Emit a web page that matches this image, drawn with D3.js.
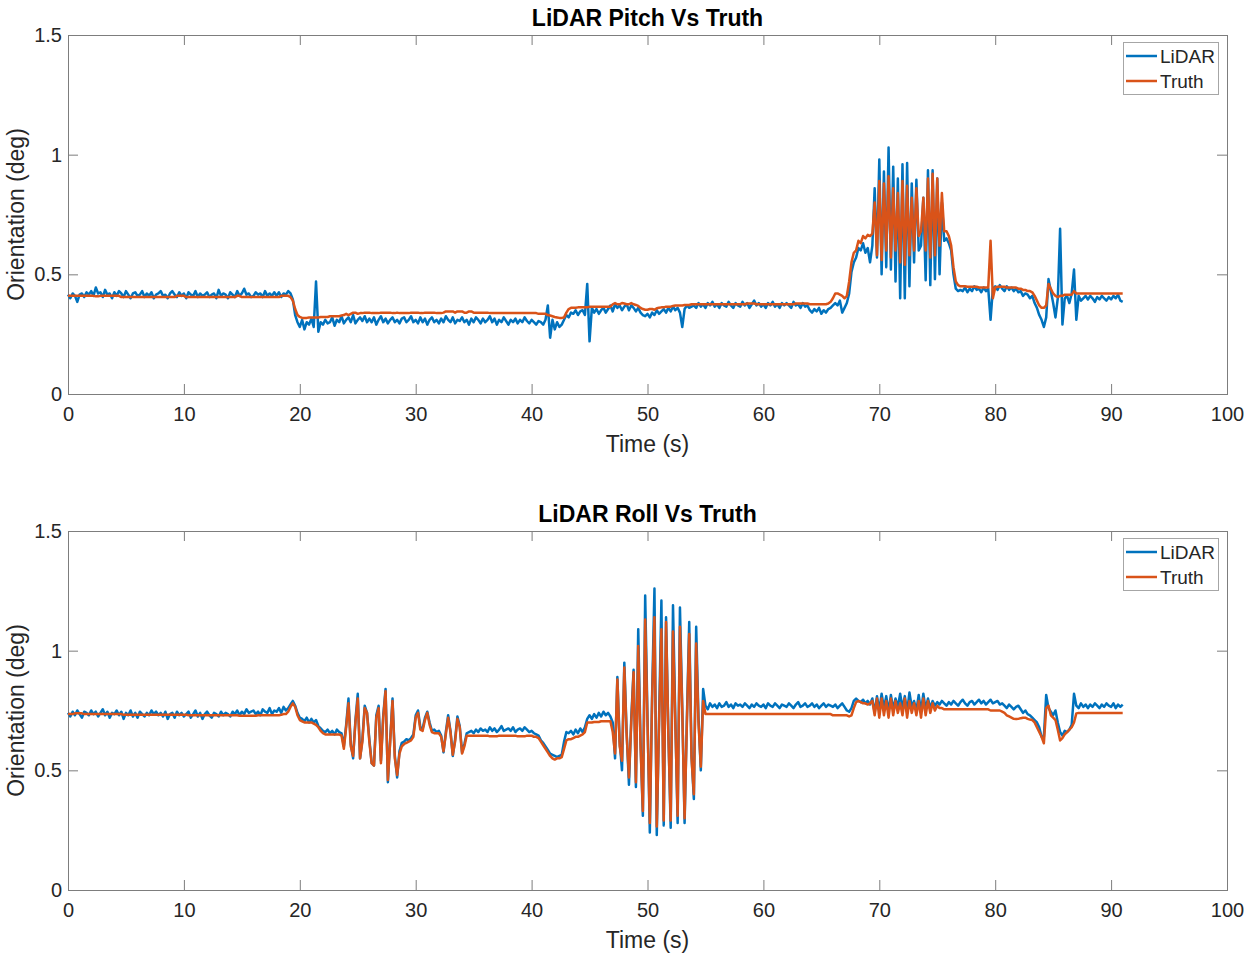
<!DOCTYPE html>
<html><head><meta charset="utf-8">
<script src="https://cdn.jsdelivr.net/npm/d3@7"></script>
<style>
body{margin:0;background:#fff}
svg{display:block}
text{font-family:"Liberation Sans",Arial,Helvetica,sans-serif}
</style>
</head><body>
<svg id="chart" width="1260" height="961"></svg>
<script>
// sampling grid (s), 0.2 s steps from 0 to 91
const time = d3.range(456).map(i => Math.round(i * 2) / 10);
const xTicks = [0, 10, 20, 30, 40, 50, 60, 70, 80, 90, 100];
const yTicks = [0, 0.5, 1, 1.5];
const yTickLabels = ["0", "0.5", "1", "1.5"];
const seriesNames = ["LiDAR", "Truth"];
const titles = ["LiDAR Pitch Vs Truth", "LiDAR Roll Vs Truth"];
const xLabel = "Time (s)";
const yLabel = "Orientation (deg)";

const pitchTruth = [
.41,.41,.41,.41,.41,.41,.41,.41,.41,.41,
.41,.41,.408,.408,.41,.41,.41,.41,.41,.41,
.41,.41,.41,.405,.405,.405,.405,.405,.405,.405,
.405,.405,.405,.405,.405,.405,.405,.405,.405,.405,
.405,.405,.405,.405,.405,.405,.405,.41,.41,.41,
.41,.405,.405,.405,.405,.405,.405,.405,.405,.405,
.405,.405,.405,.405,.405,.405,.405,.405,.405,.405,
.405,.405,.405,.41,.41,.405,.405,.405,.405,.405,
.405,.405,.405,.405,.405,.405,.405,.405,.405,.405,
.405,.405,.41,.41,.41,.41,.405,.39,.355,.33,
.322,.318,.318,.318,.32,.32,.32,.32,.32,.322,
.322,.322,.322,.325,.325,.325,.325,.325,.328,.33,
.335,.33,.335,.34,.34,.335,.338,.338,.34,.34,
.34,.338,.338,.338,.338,.34,.34,.34,.34,.34,
.338,.338,.34,.338,.338,.338,.338,.338,.34,.34,
.34,.34,.338,.338,.34,.34,.34,.34,.34,.338,
.338,.338,.34,.345,.345,.345,.345,.34,.345,.345,
.345,.34,.34,.345,.345,.34,.34,.34,.34,.34,
.34,.34,.338,.338,.338,.338,.338,.338,.338,.338,
.338,.338,.338,.338,.338,.338,.338,.338,.338,.338,
.338,.338,.338,.335,.335,.335,.335,.33,.328,.325,
.322,.32,.318,.318,.32,.34,.355,.36,.36,.36,
.362,.362,.362,.362,.362,.365,.365,.365,.365,.365,
.365,.365,.365,.365,.365,.375,.38,.375,.375,.38,
.378,.375,.375,.38,.375,.372,.368,.36,.355,.352,
.352,.355,.355,.352,.358,.36,.362,.362,.365,.365,
.365,.368,.37,.37,.37,.37,.372,.372,.372,.375,
.375,.375,.375,.375,.375,.375,.375,.375,.375,.375,
.375,.375,.375,.375,.375,.375,.375,.375,.375,.375,
.375,.375,.375,.378,.378,.378,.378,.375,.375,.375,
.375,.375,.375,.375,.375,.375,.375,.375,.375,.375,
.375,.375,.375,.375,.378,.378,.378,.378,.378,.378,
.375,.375,.375,.375,.375,.375,.375,.375,.378,.385,
.40,.42,.42,.415,.41,.40,.41,.47,.55,.59,
.60,.64,.63,.66,.65,.665,.66,.67,.80,.58,
.89,.56,.88,.60,.91,.57,.86,.60,.84,.55,
.89,.54,.87,.58,.82,.60,.86,.66,.68,.82,
.60,.90,.57,.92,.58,.90,.62,.84,.68,.68,
.66,.62,.53,.47,.455,.45,.45,.45,.448,.448,
.448,.448,.448,.445,.445,.445,.445,.445,.64,.40,
.445,.448,.448,.448,.448,.445,.445,.445,.445,.445,
.44,.44,.435,.435,.43,.43,.425,.41,.39,.37,
.36,.36,.37,.46,.44,.42,.41,.405,.41,.41,
.415,.415,.415,.415,.43,.42,.42,.42,.42,.42,
.42,.42,.42,.42,.42,.42,.42,.42,.42,.42,
.42,.42,.42,.42,.42,.42
];

const pitchLidar = [
.415,.40,.42,.41,.385,.415,.42,.405,.425,.415,
.43,.41,.445,.42,.425,.405,.435,.415,.42,.40,
.425,.41,.43,.42,.405,.43,.415,.40,.42,.425,
.41,.415,.43,.405,.42,.41,.425,.40,.415,.42,
.43,.41,.415,.40,.42,.43,.415,.405,.425,.41,
.42,.40,.425,.415,.41,.43,.405,.42,.41,.415,
.425,.405,.415,.42,.40,.435,.41,.42,.415,.40,
.425,.415,.405,.43,.41,.42,.44,.415,.42,.405,
.41,.425,.415,.42,.405,.43,.41,.42,.41,.425,
.41,.425,.405,.42,.415,.43,.42,.395,.33,.30,
.28,.31,.27,.30,.29,.315,.28,.47,.26,.30,
.29,.31,.295,.30,.32,.285,.31,.30,.325,.295,
.31,.32,.30,.33,.295,.31,.32,.305,.325,.30,
.315,.30,.32,.29,.31,.325,.30,.315,.295,.31,
.32,.30,.31,.295,.315,.32,.30,.31,.325,.30,
.31,.295,.32,.30,.315,.29,.31,.32,.30,.31,
.295,.315,.30,.325,.31,.30,.32,.295,.31,.305,
.32,.30,.31,.29,.315,.30,.32,.31,.295,.315,
.30,.31,.325,.30,.315,.29,.31,.30,.32,.305,
.29,.31,.30,.315,.295,.31,.30,.32,.305,.295,
.31,.30,.29,.305,.30,.29,.31,.37,.235,.31,
.27,.30,.28,.29,.31,.33,.32,.34,.335,.35,
.33,.345,.35,.33,.46,.22,.36,.34,.355,.335,
.35,.36,.34,.355,.37,.345,.375,.36,.37,.35,
.365,.375,.35,.37,.36,.345,.36,.34,.33,.325,
.335,.32,.34,.33,.35,.335,.345,.355,.34,.36,
.345,.365,.35,.36,.34,.28,.355,.37,.36,.365,
.37,.36,.38,.365,.375,.36,.38,.37,.385,.365,
.375,.36,.38,.37,.365,.385,.37,.36,.38,.37,
.365,.385,.37,.38,.36,.375,.39,.37,.38,.365,
.375,.36,.38,.37,.385,.365,.375,.36,.38,.37,
.38,.37,.36,.385,.37,.375,.36,.38,.365,.37,
.35,.34,.355,.345,.36,.335,.35,.34,.355,.36,
.37,.38,.37,.39,.34,.36,.38,.42,.51,.55,
.57,.61,.60,.63,.59,.61,.55,.62,.86,.57,
.98,.50,.93,.53,1.03,.52,.95,.47,.90,.40,
.96,.40,.965,.45,.88,.55,.895,.60,.62,.82,
.475,.935,.455,.935,.48,.90,.50,.80,.64,.65,
.63,.60,.50,.44,.43,.435,.43,.445,.425,.44,
.43,.45,.435,.44,.425,.445,.43,.44,.31,.44,
.45,.435,.455,.44,.43,.45,.435,.445,.43,.44,
.425,.43,.41,.42,.415,.40,.41,.38,.36,.33,
.31,.28,.32,.48,.43,.38,.32,.40,.69,.29,
.40,.41,.38,.42,.52,.31,.41,.39,.40,.41,
.395,.41,.40,.385,.405,.395,.41,.40,.39,.405,
.395,.41,.40,.415,.39,.385
];

const rollTruth = [
.735,.735,.735,.738,.738,.738,.738,.735,.735,.735,
.735,.735,.735,.735,.735,.735,.735,.735,.735,.735,
.735,.735,.735,.735,.732,.732,.732,.732,.732,.732,
.732,.732,.732,.732,.732,.732,.732,.732,.732,.732,
.732,.732,.732,.732,.732,.732,.732,.732,.732,.732,
.732,.732,.73,.73,.73,.73,.73,.73,.73,.73,
.73,.73,.73,.73,.73,.73,.73,.73,.73,.73,
.73,.73,.73,.73,.728,.728,.728,.728,.728,.728,
.728,.728,.73,.73,.73,.73,.73,.73,.73,.73,
.73,.73,.732,.735,.735,.745,.765,.78,.765,.73,
.71,.705,.70,.70,.70,.70,.695,.69,.68,.665,
.655,.65,.65,.65,.65,.65,.65,.65,.645,.59,
.68,.78,.60,.56,.70,.80,.55,.62,.76,.74,
.62,.53,.52,.72,.76,.53,.72,.83,.46,.62,
.79,.55,.48,.57,.60,.61,.615,.62,.625,.64,
.72,.74,.67,.665,.71,.74,.69,.66,.655,.655,
.655,.64,.58,.65,.72,.66,.565,.62,.715,.68,
.57,.60,.645,.645,.645,.645,.645,.645,.645,.645,
.645,.645,.642,.642,.642,.642,.645,.645,.645,.645,
.645,.645,.645,.645,.642,.642,.642,.642,.645,.645,
.645,.64,.64,.635,.62,.605,.59,.575,.56,.55,
.545,.55,.55,.555,.59,.625,.63,.63,.635,.64,
.64,.645,.65,.66,.70,.70,.70,.702,.702,.702,
.705,.705,.705,.705,.705,.66,.57,.88,.60,.54,
.93,.65,.47,.70,.91,.45,1.02,.60,.33,1.13,
.70,.28,.80,1.14,.265,.70,1.09,.29,1.12,.65,
.29,1.08,.70,.31,1.10,.75,.30,.70,1.07,.55,
.40,1.03,.70,.515,.79,.735,.735,.735,.735,.735,
.735,.735,.735,.735,.735,.735,.735,.735,.735,.735,
.735,.735,.735,.735,.735,.735,.735,.735,.735,.735,
.735,.735,.735,.735,.735,.735,.735,.735,.735,.735,
.735,.735,.735,.735,.735,.735,.735,.735,.735,.735,
.735,.735,.735,.735,.735,.735,.735,.735,.735,.735,
.73,.73,.73,.73,.73,.73,.73,.725,.73,.76,
.785,.79,.785,.78,.78,.775,.78,.79,.73,.80,
.72,.80,.73,.79,.72,.80,.73,.79,.74,.78,
.73,.80,.72,.79,.74,.78,.73,.79,.72,.80,
.73,.79,.74,.78,.75,.77,.76,.76,.755,.755,
.755,.755,.755,.755,.755,.755,.755,.755,.755,.755,
.755,.755,.755,.755,.755,.755,.755,.755,.75,.75,
.75,.75,.75,.745,.74,.73,.725,.72,.715,.714,
.715,.718,.72,.72,.715,.712,.71,.70,.68,.66,
.64,.613,.76,.77,.73,.72,.71,.67,.625,.635,
.65,.66,.67,.68,.70,.738,.74,.74,.74,.74,
.74,.74,.74,.74,.74,.74,.74,.74,.74,.74,
.74,.74,.74,.74,.74,.74
];

const rollLidar = [
.74,.725,.745,.73,.75,.735,.72,.745,.74,.73,
.75,.735,.745,.725,.74,.755,.73,.745,.72,.74,
.735,.75,.73,.745,.715,.74,.73,.75,.725,.74,
.72,.745,.735,.725,.74,.73,.75,.735,.745,.73,
.74,.725,.745,.715,.735,.74,.72,.745,.73,.74,
.725,.735,.745,.72,.735,.75,.725,.74,.715,.735,
.745,.73,.72,.74,.735,.725,.745,.73,.74,.735,
.725,.745,.735,.75,.73,.745,.735,.755,.74,.745,
.75,.735,.745,.73,.755,.745,.74,.76,.735,.75,
.745,.76,.74,.765,.75,.76,.775,.79,.77,.74,
.72,.715,.705,.72,.70,.715,.70,.71,.685,.675,
.665,.66,.67,.655,.665,.65,.67,.66,.655,.60,
.69,.80,.61,.55,.71,.82,.55,.63,.77,.74,
.63,.53,.52,.73,.77,.54,.73,.84,.45,.63,
.80,.56,.47,.58,.615,.62,.63,.625,.635,.65,
.73,.75,.68,.675,.72,.745,.70,.665,.67,.66,
.665,.645,.575,.66,.73,.665,.56,.63,.725,.685,
.575,.61,.655,.66,.665,.655,.67,.66,.675,.665,
.67,.66,.68,.665,.675,.66,.67,.685,.665,.67,
.675,.665,.68,.66,.67,.675,.665,.68,.67,.66,
.665,.655,.65,.645,.625,.615,.60,.585,.57,.565,
.56,.555,.56,.565,.62,.66,.655,.665,.65,.67,
.655,.675,.66,.68,.715,.73,.715,.735,.72,.74,
.725,.745,.73,.74,.725,.70,.55,.89,.62,.50,
.95,.66,.44,.72,.92,.43,1.09,.62,.31,1.23,
.72,.24,.82,1.26,.23,.72,1.21,.27,1.14,.66,
.26,1.19,.72,.28,1.18,.76,.28,.72,1.12,.56,
.38,1.10,.72,.50,.84,.77,.755,.78,.765,.775,
.76,.78,.765,.77,.785,.765,.775,.76,.78,.77,
.775,.765,.78,.77,.76,.775,.765,.78,.77,.765,
.775,.76,.78,.77,.765,.78,.77,.76,.775,.77,
.765,.78,.77,.76,.775,.785,.765,.77,.78,.765,
.77,.78,.765,.775,.76,.77,.78,.765,.775,.77,
.765,.775,.76,.77,.78,.765,.75,.745,.76,.79,
.80,.79,.785,.795,.78,.79,.775,.80,.74,.81,
.75,.82,.76,.81,.745,.815,.755,.80,.765,.82,
.76,.81,.745,.825,.765,.79,.75,.815,.745,.82,
.755,.80,.76,.79,.77,.785,.775,.79,.78,.77,
.785,.775,.79,.78,.77,.785,.795,.78,.77,.785,
.79,.775,.785,.795,.78,.79,.775,.785,.795,.78,
.785,.79,.775,.78,.77,.76,.775,.765,.755,.765,
.77,.755,.74,.75,.735,.73,.72,.71,.70,.68,
.64,.64,.815,.76,.745,.73,.75,.70,.66,.645,
.665,.66,.67,.69,.82,.77,.76,.78,.765,.775,
.76,.775,.765,.78,.77,.76,.775,.765,.78,.77,
.765,.78,.76,.775,.765,.775
];

const colors = { LiDAR: "#0072BD", Truth: "#D95319" };
const panels = [
  { title: titles[0], lidar: pitchLidar, truth: pitchTruth, top: 35 },
  { title: titles[1], lidar: rollLidar, truth: rollTruth, top: 531 }
];

const svg = d3.select("#chart");
const L = 68, R = 1227, H = 359;
const axisColor = "#7d7d7d", textColor = "#262626";

panels.forEach(p => {
  const g = svg.append("g");
  const x = d3.scaleLinear().domain([0, 100]).range([L, R]);
  const y = d3.scaleLinear().domain([0, 1.5]).range([p.top + H, p.top]);

  const styleAxis = sel => {
    sel.select(".domain").remove();
    sel.selectAll(".tick line").attr("stroke", axisColor);
    sel.selectAll(".tick text").attr("fill", textColor).style("font-size", "20px");
  };

  g.append("g").attr("transform", `translate(0,${p.top + H})`)
    .call(d3.axisBottom(x).tickValues(xTicks).tickSizeInner(-10).tickSizeOuter(0).tickPadding(13).tickFormat(d3.format("d")))
    .call(styleAxis);
  g.append("g").attr("transform", `translate(0,${p.top})`)
    .call(d3.axisTop(x).tickValues(xTicks).tickSizeInner(-10).tickSizeOuter(0).tickFormat(""))
    .call(styleAxis);
  g.append("g").attr("transform", `translate(${L},0)`)
    .call(d3.axisLeft(y).tickValues(yTicks).tickSizeInner(-10).tickSizeOuter(0).tickPadding(6).tickFormat((d, i) => yTickLabels[i]))
    .call(styleAxis);
  g.append("g").attr("transform", `translate(${R},0)`)
    .call(d3.axisRight(y).tickValues(yTicks).tickSizeInner(-10).tickSizeOuter(0).tickFormat(""))
    .call(styleAxis);

  g.append("rect").attr("x", L + 0.5).attr("y", p.top + 0.5)
    .attr("width", R - L).attr("height", H)
    .attr("fill", "none").attr("stroke", axisColor).attr("stroke-width", 1);

  const line = d3.line().x((d, i) => x(time[i])).y(d => y(d));
  [["LiDAR", p.lidar], ["Truth", p.truth]].forEach(([name, vals]) => {
    g.append("path").datum(vals).attr("d", line)
      .attr("fill", "none").attr("stroke", colors[name])
      .attr("stroke-width", 2.5).attr("stroke-linejoin", "round");
  });

  g.append("text").attr("x", (L + R) / 2).attr("y", p.top - 9)
    .attr("text-anchor", "middle").attr("font-weight", "bold")
    .style("font-size", "23px").attr("fill", "#000").text(p.title);
  g.append("text").attr("x", (L + R) / 2).attr("y", p.top + H + 58)
    .attr("text-anchor", "middle").style("font-size", "23px")
    .attr("fill", textColor).text(xLabel);
  g.append("text").attr("transform", `translate(24,${p.top + H / 2}) rotate(-90)`)
    .attr("text-anchor", "middle").style("font-size", "23px")
    .attr("fill", textColor).text(yLabel);

  // legend
  const lg = g.append("g").attr("transform", `translate(1123,${p.top + 7})`);
  lg.append("rect").attr("x", 0.5).attr("y", 0.5).attr("width", 95).attr("height", 52)
    .attr("fill", "#fff").attr("stroke", "#a6a6a6");
  seriesNames.forEach((n, i) => {
    const cy = 14 + i * 25;
    lg.append("line").attr("x1", 3).attr("x2", 34).attr("y1", cy).attr("y2", cy)
      .attr("stroke", colors[n]).attr("stroke-width", 2.5);
    lg.append("text").attr("x", 37).attr("y", cy).attr("dy", "0.35em")
      .style("font-size", "19px").attr("fill", textColor).text(n);
  });
});
</script>
</body></html>
